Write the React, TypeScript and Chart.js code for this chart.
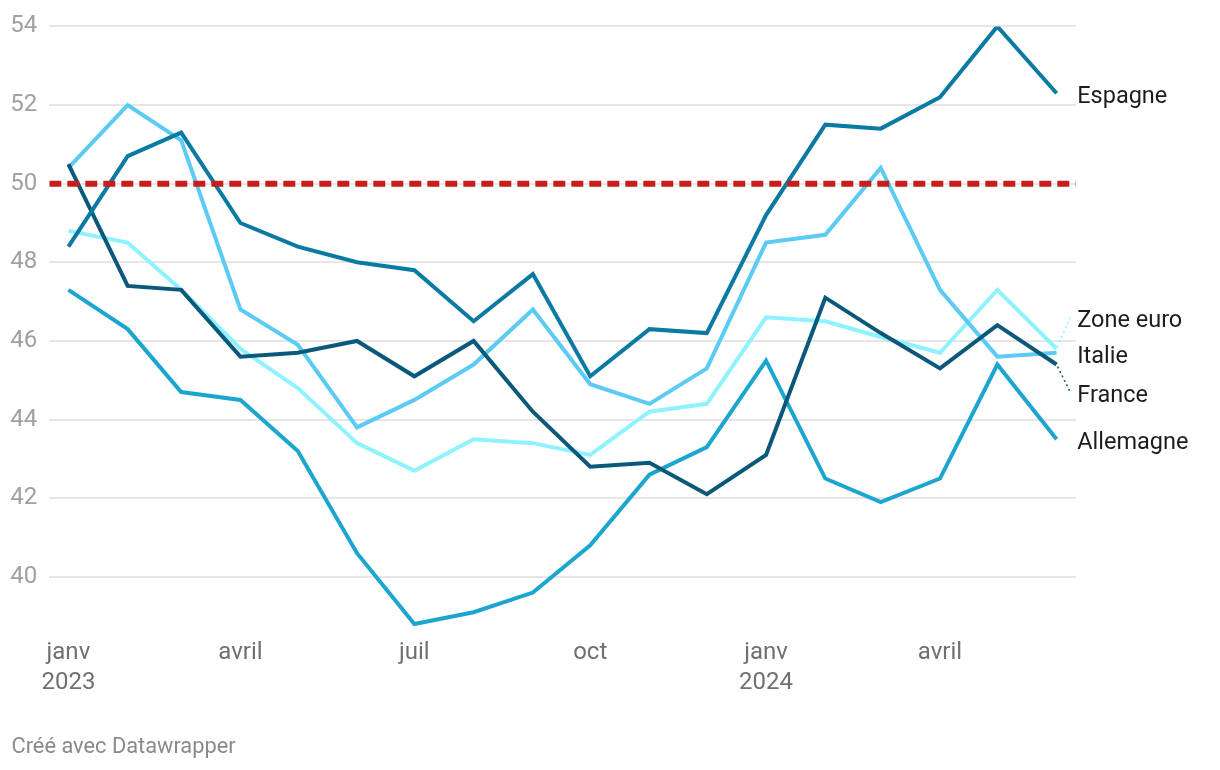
import React, { useEffect, useRef } from "react";
import { Chart, registerables } from "chart.js";

Chart.register(...registerables);

const months = [
  "2023-01", "2023-02", "2023-03", "2023-04", "2023-05", "2023-06",
  "2023-07", "2023-08", "2023-09", "2023-10", "2023-11", "2023-12",
  "2024-01", "2024-02", "2024-03", "2024-04", "2024-05", "2024-06",
];

const espagne = [48.4, 50.7, 51.3, 49.0, 48.4, 48.0, 47.8, 46.5, 47.7, 45.1, 46.3, 46.2, 49.2, 51.5, 51.4, 52.2, 54.0, 52.3];
const zoneEuro = [48.8, 48.5, 47.3, 45.8, 44.8, 43.4, 42.7, 43.5, 43.4, 43.1, 44.2, 44.4, 46.6, 46.5, 46.1, 45.7, 47.3, 45.8];
const italie = [50.4, 52.0, 51.1, 46.8, 45.9, 43.8, 44.5, 45.4, 46.8, 44.9, 44.4, 45.3, 48.5, 48.7, 50.4, 47.3, 45.6, 45.7];
const france = [50.5, 47.4, 47.3, 45.6, 45.7, 46.0, 45.1, 46.0, 44.2, 42.8, 42.9, 42.1, 43.1, 47.1, 46.2, 45.3, 46.4, 45.4];
const allemagne = [47.3, 46.3, 44.7, 44.5, 43.2, 40.6, 38.8, 39.1, 39.6, 40.8, 42.6, 43.3, 45.5, 42.5, 41.9, 42.5, 45.4, 43.5];

const seriesNames = ["Espagne", "Zone euro", "Italie", "France", "Allemagne"];
const seriesValues = [espagne, zoneEuro, italie, france, allemagne];
const seriesColors = ["#0b7aa2", "#8ef2ff", "#5ccbf4", "#0a587a", "#1ca5cf"];
// label anchor values (data units) after de-overlapping
const labelValues = [52.3, 46.6, 45.7, 44.7, 43.5];

const threshold = 50;
const yTicks = [40, 42, 44, 46, 48, 50, 52, 54];
const xTickMonths = ["2023-01", "2023-04", "2023-07", "2023-10", "2024-01", "2024-04"];
const xTickLabels = [["janv", "2023"], ["avril"], ["juil"], ["oct"], ["janv", "2024"], ["avril"]];
const footerText = "Créé avec Datawrapper";

function dayIndex(m: string): number {
  const [y, mo] = m.split("-").map(Number);
  return (Date.UTC(y, mo - 1, 1) - Date.UTC(2023, 0, 1)) / 86400000;
}

const xDays = months.map(dayIndex);
const xMin = xDays[0] - 10;
const xMax = xDays[xDays.length - 1] + 10;

const labelPlugin = {
  id: "endLabels",
  afterDatasetsDraw(chart: any) {
    const { ctx, chartArea, scales } = chart;
    const xs = scales.x;
    const ys = scales.y;
    const textX = chartArea.right + 1.5;
    ctx.save();
    ctx.font = "23.5px Roboto";
    ctx.textAlign = "left";
    ctx.textBaseline = "middle";
    seriesNames.forEach((name, i) => {
      const vals = seriesValues[i];
      const lastX = xs.getPixelForValue(xDays[xDays.length - 1]);
      const lastY = ys.getPixelForValue(vals[vals.length - 1]);
      const ly = ys.getPixelForValue(labelValues[i]);
      if (Math.abs(ly - lastY) > 4) {
        ctx.save();
        ctx.strokeStyle = seriesColors[i];
        ctx.lineWidth = 1.5;
        ctx.setLineDash([2, 3]);
        ctx.beginPath();
        ctx.moveTo(lastX + 1, lastY + (ly < lastY ? -2 : 2));
        ctx.lineTo(textX - 7, ly);
        ctx.stroke();
        ctx.restore();
      }
      ctx.fillStyle = "#1d1d1d";
      ctx.fillText(name, textX, ly + 4);
    });
    ctx.restore();
  },
};

export default function App() {
  const canvasRef = useRef<HTMLCanvasElement | null>(null);

  useEffect(() => {
    document.body.style.margin = "0";
    const canvas = canvasRef.current;
    if (!canvas) return;

    const lineDatasets = seriesNames.map((name, i) => ({
      label: name,
      data: seriesValues[i].map((v, j) => ({ x: xDays[j], y: v })),
      borderColor: seriesColors[i],
      backgroundColor: seriesColors[i],
      borderWidth: 4,
      pointRadius: 0,
      tension: 0,
      fill: false,
    }));

    const chart = new Chart(canvas, {
      type: "line",
      data: {
        datasets: [
          {
            label: "seuil",
            data: [
              { x: xMin, y: threshold },
              { x: xMax, y: threshold },
            ],
            borderColor: "#c71e1d",
            borderWidth: 6,
            borderDash: [12, 6],
            pointRadius: 0,
            fill: false,
          },
          lineDatasets[0],
          lineDatasets[3],
          lineDatasets[2],
          lineDatasets[4],
          lineDatasets[1],
        ] as any,
      },
      options: {
        animation: false,
        responsive: false,
        devicePixelRatio: 1,
        layout: { padding: { left: 0, right: 144.3, top: 24, bottom: 0 } },
        plugins: {
          legend: { display: false },
          tooltip: { enabled: false },
        },
        scales: {
          x: {
            type: "linear",
            min: xMin,
            max: xMax,
            grid: { display: false, drawTicks: false },
            border: { display: false },
            afterBuildTicks: (scale: any) => {
              scale.ticks = xTickMonths.map((m) => ({ value: dayIndex(m) }));
            },
            afterFit: (scale: any) => {
              scale.height = 134.2;
            },
            ticks: {
              autoSkip: false,
              maxRotation: 0,
              padding: 2,
              color: "#707070",
              font: { family: "Roboto", size: 24, lineHeight: 1.25 },
              callback: (value: any) => {
                const idx = xTickMonths.findIndex((m) => dayIndex(m) === value);
                return idx >= 0 ? xTickLabels[idx] : "";
              },
            },
          },
          y: {
            type: "linear",
            min: 38.5,
            max: 54,
            grid: { color: "#e6e6e6", lineWidth: 2, drawTicks: false },
            border: { display: false },
            afterBuildTicks: (scale: any) => {
              scale.ticks = yTicks.map((v) => ({ value: v }));
            },
            afterFit: (scale: any) => {
              scale.width = 49.3;
            },
            ticks: {
              padding: 12,
              color: "#a0a0a0",
              font: { family: "Roboto", size: 24 },
              callback: (value: any) => String(value),
            },
          },
        },
      } as any,
      plugins: [labelPlugin],
    });

    return () => chart.destroy();
  }, []);

  return (
    <div style={{ position: "relative", width: 1220, height: 770, background: "#fff" }}>
      <canvas ref={canvasRef} width={1220} height={770} style={{ position: "absolute", left: 0, top: 0 }} />
      <div
        style={{
          position: "absolute",
          left: 11.5,
          top: 735,
          fontFamily: "Roboto",
          fontSize: 21.8,
          lineHeight: "22px",
          color: "#8a8a8a",
          whiteSpace: "nowrap",
        }}
      >
        {footerText}
      </div>
    </div>
  );
}
